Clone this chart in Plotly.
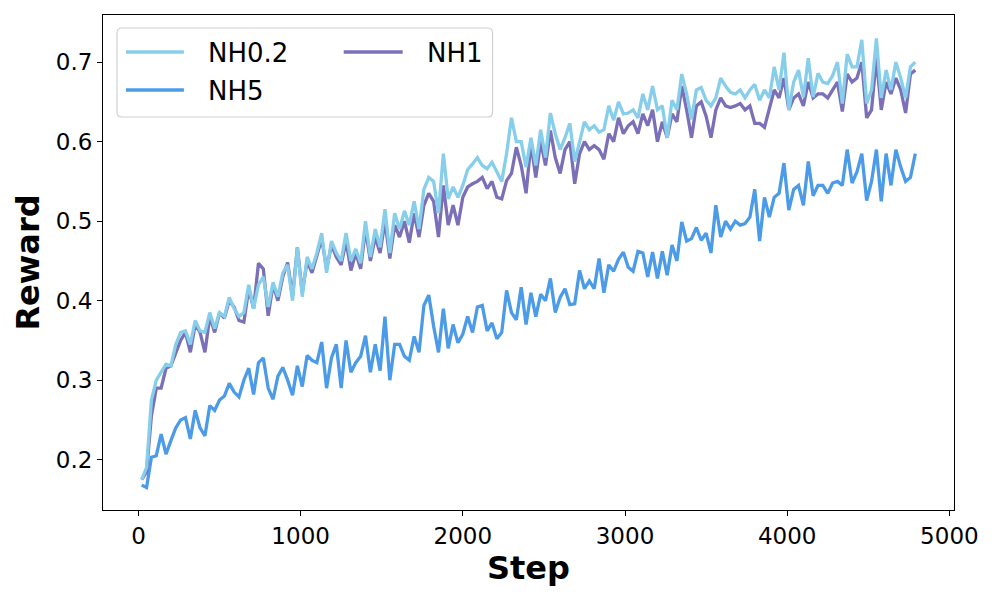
import plotly.graph_objects as go

steps = list(range(20, 4800, 30))

nh02 = [
    0.175, 0.190, 0.275, 0.300, 0.310, 0.320, 0.318, 0.345, 0.360, 0.362,
    0.345, 0.375, 0.362, 0.360, 0.385, 0.365, 0.385, 0.380, 0.404, 0.390,
    0.380, 0.385, 0.420, 0.390, 0.420, 0.430, 0.392, 0.423, 0.405, 0.435,
    0.445, 0.400, 0.467, 0.405, 0.455, 0.440, 0.460, 0.485, 0.435, 0.475,
    0.460, 0.450, 0.485, 0.450, 0.465, 0.447, 0.500, 0.455, 0.490, 0.467,
    0.515, 0.460, 0.510, 0.490, 0.513, 0.495, 0.525, 0.490, 0.540, 0.555,
    0.550, 0.510, 0.585, 0.528, 0.543, 0.530, 0.545, 0.565, 0.572, 0.580,
    0.570, 0.566, 0.574, 0.562, 0.550, 0.585, 0.630, 0.600, 0.600, 0.568,
    0.605, 0.570, 0.615, 0.580, 0.636, 0.610, 0.590, 0.605, 0.623, 0.575,
    0.600, 0.625, 0.615, 0.620, 0.612, 0.615, 0.645, 0.627, 0.650, 0.635,
    0.636, 0.640, 0.630, 0.660, 0.640, 0.670, 0.640, 0.645, 0.605, 0.652,
    0.640, 0.685, 0.660, 0.628, 0.665, 0.668, 0.652, 0.645, 0.655, 0.680,
    0.670, 0.662, 0.660, 0.665, 0.655, 0.665, 0.672, 0.652, 0.665, 0.655,
    0.694, 0.665, 0.712, 0.640, 0.675, 0.690, 0.656, 0.705, 0.656, 0.686,
    0.675, 0.673, 0.683, 0.700, 0.648, 0.710, 0.694, 0.694, 0.728, 0.648,
    0.665, 0.730, 0.655, 0.690, 0.665, 0.700, 0.680, 0.655, 0.694, 0.700,
]

nh1 = [
    0.175, 0.185, 0.255, 0.290, 0.290, 0.315, 0.318, 0.335, 0.350, 0.360,
    0.335, 0.370, 0.360, 0.335, 0.380, 0.360, 0.385, 0.378, 0.400, 0.392,
    0.375, 0.373, 0.415, 0.390, 0.447, 0.440, 0.381, 0.420, 0.400, 0.430,
    0.448, 0.405, 0.467, 0.410, 0.450, 0.435, 0.455, 0.478, 0.440, 0.470,
    0.455, 0.445, 0.475, 0.438, 0.460, 0.440, 0.490, 0.450, 0.480, 0.460,
    0.500, 0.453, 0.495, 0.480, 0.500, 0.473, 0.510, 0.480, 0.520, 0.535,
    0.525, 0.480, 0.545, 0.495, 0.520, 0.495, 0.530, 0.543, 0.547, 0.550,
    0.555, 0.541, 0.550, 0.530, 0.528, 0.551, 0.560, 0.593, 0.570, 0.535,
    0.598, 0.555, 0.600, 0.570, 0.614, 0.580, 0.560, 0.590, 0.600, 0.547,
    0.585, 0.600, 0.590, 0.595, 0.590, 0.578, 0.610, 0.600, 0.630, 0.610,
    0.620, 0.625, 0.610, 0.635, 0.620, 0.640, 0.600, 0.625, 0.605, 0.635,
    0.625, 0.670, 0.640, 0.605, 0.645, 0.650, 0.632, 0.605, 0.640, 0.655,
    0.645, 0.643, 0.645, 0.648, 0.640, 0.645, 0.623, 0.623, 0.618, 0.640,
    0.665, 0.655, 0.680, 0.640, 0.655, 0.660, 0.645, 0.675, 0.655, 0.660,
    0.660, 0.655, 0.665, 0.675, 0.638, 0.685, 0.675, 0.680, 0.700, 0.630,
    0.640, 0.705, 0.640, 0.675, 0.660, 0.680, 0.665, 0.636, 0.685, 0.690,
]

nh5 = [
    0.168, 0.165, 0.203, 0.205, 0.232, 0.207, 0.224, 0.240, 0.250, 0.253,
    0.226, 0.262, 0.240, 0.230, 0.268, 0.262, 0.275, 0.280, 0.296, 0.285,
    0.279, 0.300, 0.315, 0.282, 0.322, 0.328, 0.290, 0.276, 0.305, 0.316,
    0.300, 0.281, 0.318, 0.292, 0.331, 0.325, 0.322, 0.348, 0.290, 0.328,
    0.345, 0.290, 0.350, 0.310, 0.322, 0.330, 0.356, 0.310, 0.345, 0.312,
    0.380, 0.300, 0.345, 0.345, 0.330, 0.325, 0.355, 0.335, 0.394, 0.407,
    0.368, 0.335, 0.390, 0.340, 0.370, 0.347, 0.358, 0.380, 0.360, 0.392,
    0.394, 0.362, 0.372, 0.352, 0.360, 0.413, 0.385, 0.376, 0.417, 0.370,
    0.410, 0.380, 0.408, 0.400, 0.428, 0.385, 0.404, 0.415, 0.395, 0.396,
    0.438, 0.415, 0.425, 0.415, 0.453, 0.410, 0.445, 0.437, 0.452, 0.461,
    0.442, 0.437, 0.462, 0.460, 0.430, 0.461, 0.428, 0.462, 0.432, 0.470,
    0.450, 0.499, 0.475, 0.478, 0.492, 0.476, 0.485, 0.460, 0.520, 0.480,
    0.500, 0.490, 0.500, 0.495, 0.497, 0.505, 0.540, 0.475, 0.530, 0.505,
    0.530, 0.535, 0.573, 0.514, 0.540, 0.545, 0.520, 0.575, 0.532, 0.545,
    0.545, 0.535, 0.548, 0.550, 0.545, 0.590, 0.548, 0.562, 0.585, 0.526,
    0.550, 0.590, 0.525, 0.585, 0.545, 0.590, 0.568, 0.550, 0.555, 0.585,
]

series_names = ["NH0.2", "NH5", "NH1"]
colors = {"NH0.2": "#87CEEB", "NH5": "#4C9BE8", "NH1": "#7B6FB8"}
values = {"NH0.2": nh02, "NH5": nh5, "NH1": nh1}

FONT = "DejaVu Sans"
fig = go.Figure()
for name in ["NH5", "NH1", "NH0.2"]:
    fig.add_trace(go.Scatter(
        x=steps, y=values[name], mode="lines", name=name,
        line=dict(color=colors[name], width=3.3), showlegend=False,
    ))

# legend drawn manually (matplotlib-style, 2 columns)
W, H = 852.0, 495.0  # plot area size in px
L, T = 103.0, 15.0


def px(xp):
    return (xp - L) / W


def py(yp):
    return 1 - (yp - T) / H


bx0, bx1, by0, by1, r = 117, 493, 28, 117, 5
path = (
    f"M {px(bx0 + r)},{py(by0)} L {px(bx1 - r)},{py(by0)} "
    f"Q {px(bx1)},{py(by0)} {px(bx1)},{py(by0 + r)} "
    f"L {px(bx1)},{py(by1 - r)} Q {px(bx1)},{py(by1)} {px(bx1 - r)},{py(by1)} "
    f"L {px(bx0 + r)},{py(by1)} Q {px(bx0)},{py(by1)} {px(bx0)},{py(by1 - r)} "
    f"L {px(bx0)},{py(by0 + r)} Q {px(bx0)},{py(by0)} {px(bx0 + r)},{py(by0)} Z"
)
fig.add_shape(type="path", path=path, xref="paper", yref="paper",
              line=dict(color="#D0D0D0", width=1.2),
              fillcolor="rgba(255,255,255,0.8)", layer="above")

legend_items = [
    ("NH0.2", 126, 184, 206, 52),
    ("NH5", 126, 184, 206, 90),
    ("NH1", 344, 403, 425, 52),
]
for name, lx0, lx1, tx, ly in legend_items:
    fig.add_shape(type="line", xref="paper", yref="paper",
                  x0=px(lx0), x1=px(lx1), y0=py(ly), y1=py(ly),
                  line=dict(color=colors[name], width=3.3), layer="above")
    fig.add_annotation(x=px(tx), y=py(ly + 1), xref="paper", yref="paper",
                       text=name, showarrow=False, xanchor="left",
                       yanchor="middle",
                       font=dict(family=FONT, size=26, color="black"))

axis_common = dict(
    showline=True, linecolor="black", linewidth=1.1, mirror=True,
    ticks="outside", ticklen=5, tickwidth=1.1, tickcolor="black",
    showgrid=False, zeroline=False,
    tickfont=dict(family=FONT, size=23, color="black"),
)

fig.update_layout(
    width=996, height=598,
    margin=dict(l=103, r=42, t=15, b=88),
    paper_bgcolor="white", plot_bgcolor="white",
    font=dict(family=FONT, color="black"),
    xaxis=dict(
        range=[-218.5, 5028.5], tickvals=[0, 1000, 2000, 3000, 4000, 5000],
        title=dict(text="Step", font=dict(family=FONT, size=32, weight="bold"),
                   standoff=1),
        **axis_common,
    ),
    yaxis=dict(
        range=[0.1367, 0.7593], tickvals=[0.2, 0.3, 0.4, 0.5, 0.6, 0.7],
        tickformat=".1f",
        title=dict(text="Reward", font=dict(family=FONT, size=32, weight="bold"),
                   standoff=6),
        **axis_common,
    ),
)

fig.write_html("out.html",
               config={"displayModeBar": False},
               post_script="document.body.style.margin='0';"
                           "document.body.style.padding='0';")
